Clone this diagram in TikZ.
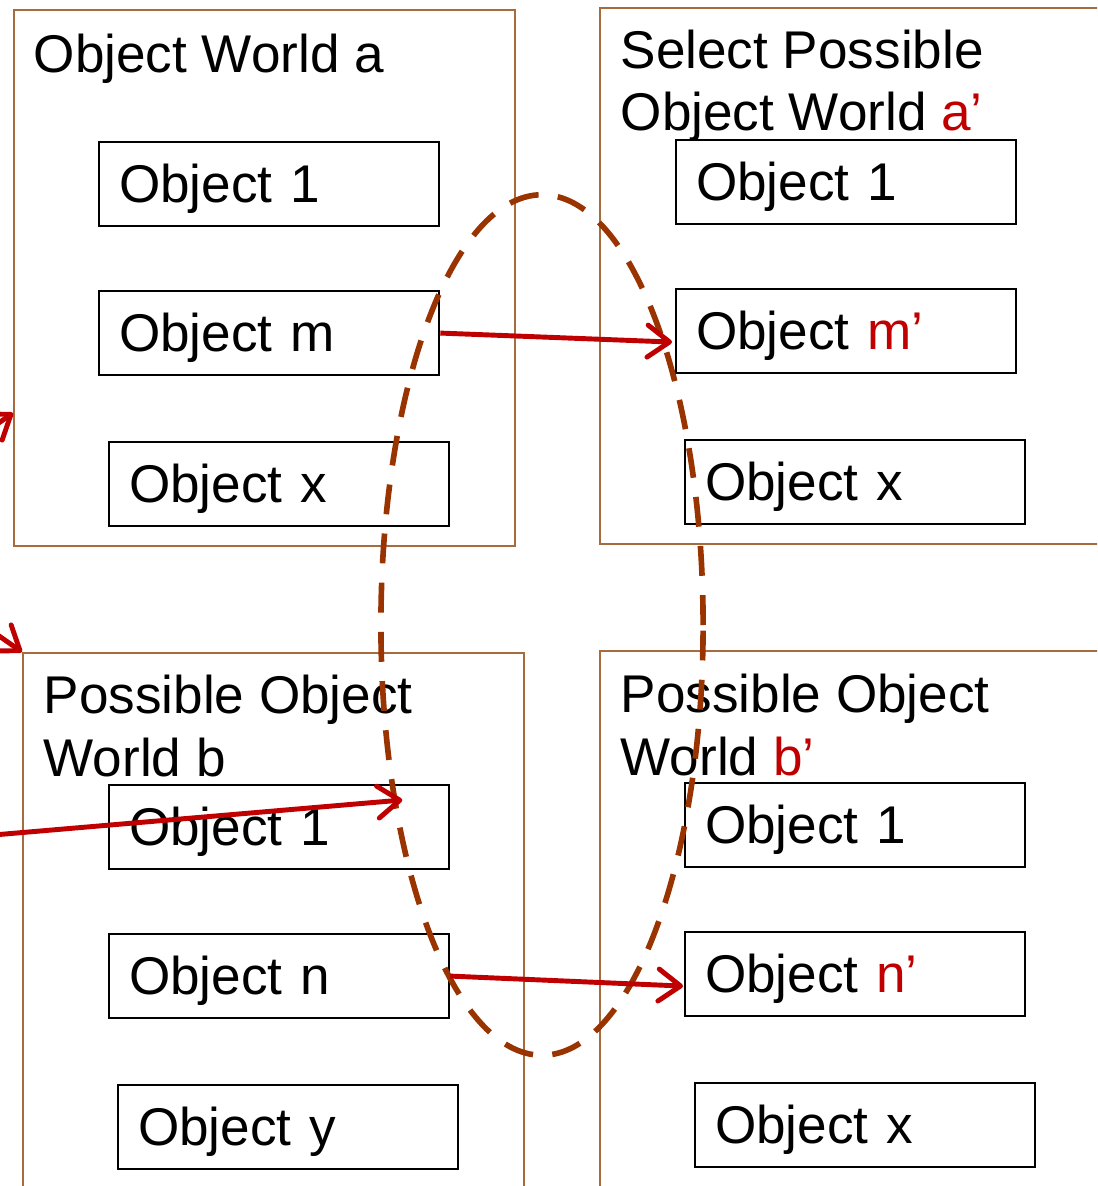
\documentclass[tikz,border=0pt]{standalone}
\usepackage{fontspec}
\setmainfont{Liberation Sans}
\usetikzlibrary{arrows.meta,calc,shapes.geometric}
\definecolor{framebrown}{RGB}{166,108,62}
\definecolor{ellbrown}{RGB}{153,51,0}
\definecolor{arrred}{RGB}{192,0,0}
\tikzset{
  every node/.style={font=\fontsize{15.1pt}{17.9pt}\selectfont},
  world/.style={draw=framebrown, line width=0.6pt, anchor=north west, inner sep=0pt},
  title/.style={anchor=base west, align=left, inner sep=0pt},
  objbox/.style={draw=black, line width=0.6pt, anchor=north west,
    text width=3.0cm, inner xsep=0.2cm, inner ysep=0pt, align=left,
    minimum height=0.84cm, text height=0.37cm, text depth=0pt},
  redarrow/.style={draw=arrred, line width=1.4pt,
    -{Straight Barb[length=2.2mm, width=3.2mm, line cap=round, line join=round]}},
  ring/.style={draw=ellbrown, line width=1.6pt, dash pattern=on 8.5pt off 5.5pt}
}
\newcommand{\rd}[1]{\textcolor{arrred}{#1}}
\begin{document}
\begin{tikzpicture}[x=0.01cm, y=-0.01cm]
\useasboundingbox (0,0) rectangle (1097,1186);
\clip (0,0) rectangle (1097,1186);
% outer worlds
\node[world, minimum width=5.01cm, minimum height=5.36cm] (wa) at (13,9) {};
\node[world, minimum width=5.11cm, minimum height=5.36cm] (wap) at (599,7) {};
\node[world, minimum width=5.01cm, minimum height=5.48cm] (wb) at (22,652) {};
\node[world, minimum width=5.11cm, minimum height=5.48cm] (wbp) at (599,650) {};
% titles (base anchor = baseline of last line)
\node[title] (ta) at (33,73) {Object World a};
\node[title] (tap) at (620,131) {Select Possible\\Object World \rd{a’}};
\node[title] (tb) at (43,776) {Possible Object\\World b};
\node[title] (tbp) at (620,775) {Possible Object\\World \rd{b’}};
% objects in world a
\node[objbox] (a1) at (98,141) {Object 1};
\node[objbox] (am) at (98,290) {Object m};
\node[objbox] (ax) at (108,441) {Object x};
% objects in world a'
\node[objbox] (ap1) at (675,139) {Object 1};
\node[objbox] (apm) at (675,288) {Object \rd{m’}};
\node[objbox] (apx) at (684,439) {Object x};
% objects in world b
\node[objbox] (b1) at (108,784) {Object 1};
\node[objbox] (bn) at (108,933) {Object n};
\node[objbox] (by) at (117,1084) {Object y};
% objects in world b'
\node[objbox] (bp1) at (684,782) {Object 1};
\node[objbox] (bpn) at (684,931) {Object \rd{n’}};
\node[objbox] (bpx) at (694,1082) {Object x};
% dashed ring
\node[ring, ellipse, minimum width=3.22cm, minimum height=8.6cm, inner sep=0pt] (ring) at (542,625) {};
% arrows
\coordinate (srcA) at (-110,499);
\coordinate (srcB) at (-101,566);
\coordinate (srcC) at (-100,843);
\draw[redarrow] (srcA) -- ($(wa.north west)+(0,404)$);
\draw[redarrow] (srcB) -- (wb.north west);
\draw[redarrow] (srcC) -- ($(b1.north east)+(-48,16)$);
\draw[redarrow] (am.east) -- ($(apm.west)+(-3,11)$);
\draw[redarrow] (bn.east) -- ($(bpn.west)+(-1,12)$);
\end{tikzpicture}
\end{document}
